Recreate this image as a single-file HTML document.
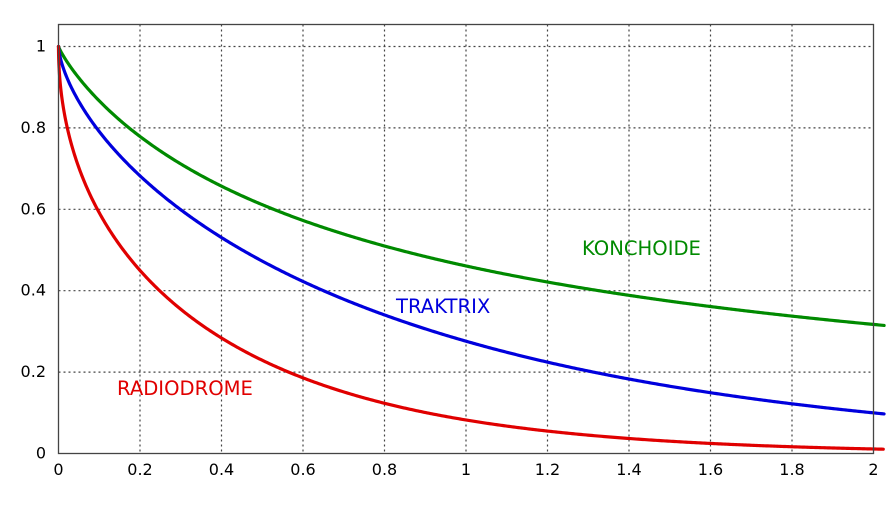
<!DOCTYPE html>
<html><head><meta charset="utf-8"><style>
html,body{margin:0;padding:0;background:#fff;}
svg{display:block;font-family:"DejaVu Sans","Liberation Sans",sans-serif;}
</style></head><body>
<svg id="s" width="896" height="512" viewBox="0 0 896 512" xmlns="http://www.w3.org/2000/svg">
<g id="grid" stroke="#444" stroke-width="1.2" stroke-dasharray="2,3" fill="none"></g>
<g id="curves" fill="none" stroke-width="3.2" stroke-linejoin="round" stroke-linecap="round"></g>
<rect x="58.5" y="24.5" width="815" height="429" fill="none" stroke="#444" stroke-width="1.3"/>
<g id="labels" font-size="16" fill="#000"></g>
<text x="582" y="255" font-size="19.6" fill="#008a00">KONCHOIDE</text>
<text x="396" y="313" font-size="19.6" fill="#0000dd">TRAKTRIX</text>
<text x="117" y="395" font-size="19.6" fill="#e00000">RADIODROME</text>
</svg>
<script>
var X0=58.5,SX=407.5,Y0=453.5,SY=407;
function px(x){return X0+x*SX;} function py(y){return Y0-y*SY;}
var ns="http://www.w3.org/2000/svg";
var g=document.getElementById('grid'),lb=document.getElementById('labels');
function el(p,t,a,txt){var e=document.createElementNS(ns,t);for(var k in a)e.setAttribute(k,a[k]);if(txt!==undefined)e.textContent=txt;p.appendChild(e);return e;}
for(var i=1;i<10;i++){var x=px(i*0.2);el(g,'line',{x1:x,x2:x,y1:24.5,y2:453.5});}
for(var i=1;i<=5;i++){var y=py(i*0.2);el(g,'line',{x1:58.5,x2:873.5,y1:y,y2:y});}
var xl=['0','0.2','0.4','0.6','0.8','1','1.2','1.4','1.6','1.8','2'];
for(var i=0;i<=10;i++)el(lb,'text',{x:px(i*0.2),y:475,'text-anchor':'middle'},xl[i]);
var yl=['0','0.2','0.4','0.6','0.8','1'];
for(var i=0;i<=5;i++)el(lb,'text',{x:46,y:py(i*0.2)+5,'text-anchor':'end'},yl[i]);
var cg=document.getElementById('curves');
var XM=2.026;
function path(fn){var d='';for(var i=0;i<=600;i++){var p=fn(i/600);if(!p)continue;d+=(d?'L':'M')+px(p[0]).toFixed(2)+','+py(p[1]).toFixed(2);}return d;}
var dr=path(function(t){var y=Math.exp(Math.log(0.0095)*t);var x=y*y/4-0.25-Math.log(y)/2;if(x>XM)return null;return [x,y];});
var dt=path(function(t){var y=Math.exp(Math.log(0.095)*t);var s=Math.sqrt(1-y*y);var x=Math.log((1+s)/y)-s;if(x>XM)return null;return [x,y];});
var dk=path(function(t){var x=XM*t;return [x,1/(1+1.17*Math.pow(x,0.88))];});
el(cg,'path',{d:dk,stroke:'#008a00'});
el(cg,'path',{d:dt,stroke:'#0000dd'});
el(cg,'path',{d:dr,stroke:'#e00000'});
</script>
</body></html>
